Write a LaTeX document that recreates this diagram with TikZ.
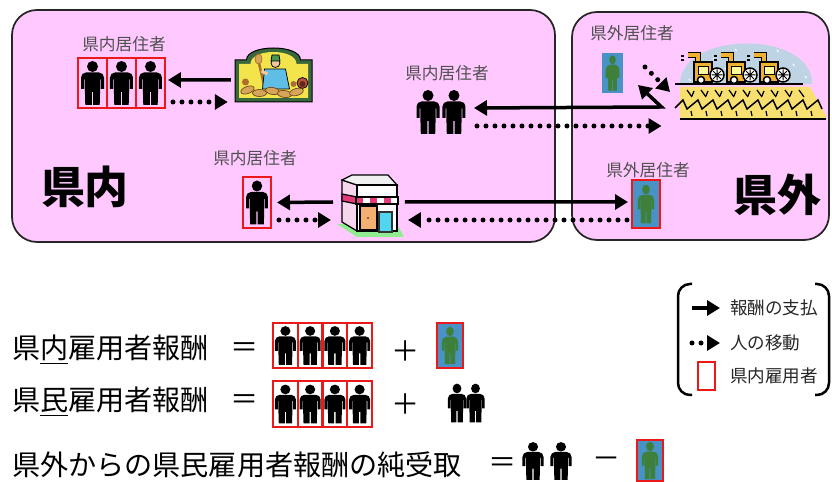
\documentclass[tikz,border=0pt]{standalone}
\usepackage{fontspec}
\newfontfamily\jp{Noto Sans CJK JP}
\usetikzlibrary{arrows.meta,positioning}

\definecolor{areapink}{RGB}{255,200,255}
\definecolor{empred}{RGB}{235,25,25}
\definecolor{outblue}{RGB}{72,146,198}
\definecolor{outgreen}{RGB}{62,128,58}
\definecolor{tagtext}{RGB}{80,80,80}
% clip-art colours
\definecolor{framegreen}{RGB}{58,104,62}
\definecolor{panelyellow}{RGB}{244,228,76}
\definecolor{shirtblue}{RGB}{96,190,230}
\definecolor{capgreen}{RGB}{70,150,80}
\definecolor{skin}{RGB}{240,200,160}
\definecolor{breadbrown}{RGB}{170,110,45}
\definecolor{crust}{RGB}{215,165,90}
\definecolor{ovenred}{RGB}{190,80,56}
\definecolor{skyblue}{RGB}{190,212,228}
\definecolor{harvorange}{RGB}{240,176,48}
\definecolor{wheat}{RGB}{248,224,112}
\definecolor{awning}{RGB}{225,60,120}
\definecolor{shopside}{RGB}{246,214,236}
\definecolor{doororange}{RGB}{244,176,112}
\definecolor{glass}{RGB}{80,214,240}
\definecolor{lawn}{RGB}{144,236,144}

\tikzset{
  man/.pic={
    \fill[pic actions] (0,-16.5) circle[radius=5.5];
    \fill[pic actions] (-11.5,6) [rounded corners=0.1cm] -- (-11.5,-10.5) -- (11.5,-10.5)
      [sharp corners] -- (11.5,6) -- (8.3,6) -- (8.3,-3.5) -- (7.6,-3.5) -- (7.6,7)
      -- (7.2,22) -- (0.7,22) -- (0.7,9) -- (-0.7,9) -- (-0.7,22) -- (-7.2,22) -- (-7.6,7)
      -- (-7.6,-3.5) -- (-8.3,-3.5) -- (-8.3,6) -- cycle;
  },
  harvester/.pic={
    % chute
    \draw[line width=0.13cm] (-8,-19) -- (-8,-27) -- (-18,-27);
    \draw[harvorange, line width=0.075cm] (-8,-19) -- (-8,-27) -- (-18,-27);
    % body and cab
    \draw[fill=harvorange, line width=0.03cm] (-12,0) rectangle (6,-20);
    \draw[fill=yellow!40, line width=0.02cm] (-8,-15) rectangle (2,-7);
    \draw[line width=0.025cm] (-25,-26) -- (-22,-26) (-25,-22) -- (-22,-22);
    % wheels
    \draw[fill=white, line width=0.03cm] (11,-7) circle[radius=7];
    \draw[line width=0.02cm] (5.5,-7) -- (16.5,-7) (11,-12.5) -- (11,-1.5)
      (7.2,-10.8) -- (14.8,-3.2) (7.2,-3.2) -- (14.8,-10.8);
    \draw[fill=white, line width=0.03cm] (-5,-2) circle[radius=3.5];
  }
}

\begin{document}
\begin{tikzpicture}[
    x=0.02cm, y=-0.02cm,
    >={Triangle[length=0.26cm, width=0.3cm]},
    every node/.style={font=\jp},
    area/.style={draw=black!85, line width=0.035cm, fill=areapink, rounded corners=0.5cm},
    empbox/.style={draw=empred, line width=0.045cm, inner sep=0pt, outer sep=0pt,
      minimum width=0.58cm, minimum height=1cm},
    rowbox/.style={empbox, minimum width=0.495cm, minimum height=0.9cm},
    outbox/.style={fill=outblue, inner sep=0pt, outer sep=0pt},
    slot/.style={inner sep=0pt, outer sep=0pt, minimum width=0.52cm, minimum height=0.9cm},
    art/.style={inner sep=0pt, outer sep=0pt},
    tag/.style={text=tagtext, font=\jp\fontsize{9.5}{11}\selectfont},
    region/.style={font=\jp\bfseries\fontsize{25}{28}\selectfont},
    formula/.style={anchor=west, font=\jp\fontsize{16}{18}\selectfont},
    op/.style={font=\jp\fontsize{16}{18}\selectfont},
    keytext/.style={anchor=west, text=black!85, font=\jp\fontsize{10}{12}\selectfont},
    pay/.style={line width=0.07cm, ->},
    move/.style={line width=0.1cm, line cap=round, dash pattern=on 0pt off 0.18cm, ->},
    bracket/.style={line width=0.05cm, rounded corners=0.24cm},
  ]
  \useasboundingbox (0,0) rectangle (832,482);

  % the two areas
  \draw[area] (12,10) rectangle (555,242);
  \draw[area] (572,12) rectangle (829,240);
  \node[region] (inside) at (85,187) {県内};
  \node[region] (outside) at (777,195) {県外};

  % residents employed at the bakery
  \node[empbox] (r1) at (92.5,83) {};
  \node[empbox, right=0pt of r1] (r2) {};
  \node[empbox, right=0pt of r2] (r3) {};
  \foreach \n in {r1,r2,r3} \pic at (\n.center) {man};
  \node[tag] (t1) at (124,44) {県内居住者};

  \node[art, minimum width=1.55cm, minimum height=1.08cm] (bakery) at (273.5,75) {};
  \begin{scope}[shift={(bakery.center)}]
    \filldraw[fill=framegreen, draw=black, line width=0.02cm] (-38.5,27) -- (-38.5,-15) -- (-27,-15)
      .. controls (-27,-31) and (27,-31) .. (27,-15) -- (38.5,-15) -- (38.5,27) -- cycle;
    \fill[panelyellow] (-34.5,23) -- (-34.5,-11) -- (-23,-11)
      .. controls (-23,-27) and (23,-27) .. (23,-11) -- (34.5,-11) -- (34.5,23) -- cycle;
    % peel
    \draw[breadbrown, line width=0.05cm] (-15,-14) -- (-9,12);
    \filldraw[fill=crust, draw=breadbrown, line width=0.015cm] (-15,-16) ellipse[x radius=3.5, y radius=5];
    % baker
    \filldraw[fill=shirtblue, draw=black, line width=0.015cm] (-9,-6) -- (12,-6) -- (16,14) -- (-11,14) -- cycle;
    \draw[skin, line width=0.06cm] (-6,-1) -- (-12,-4);
    \filldraw[fill=skin, draw=black, line width=0.015cm] (2,-12) circle[radius=4.5];
    \filldraw[fill=capgreen, draw=black, line width=0.015cm] (-2.5,-14) -- (6.5,-14) -- (5.5,-20) -- (-1.5,-20) -- cycle;
    % oven
    \filldraw[fill=ovenred, draw=black, line width=0.015cm] (29,8) circle[radius=5.5];
    \fill[ovenred!50!black] (29,9) circle[radius=3];
    % loaves
    \foreach \x/\y/\r in {-26/15/20, -14/18/0, -1/16/-10, 11/19/-8, 23/17/15}
      \filldraw[fill=crust, draw=breadbrown!70!black, line width=0.015cm, rotate around={\r:(\x,\y)}]
        (\x,\y) ellipse[x radius=7, y radius=3.5];
    \fill[breadbrown] (-28,7) circle[radius=3.5];
    \fill[breadbrown] (20,9) circle[radius=3];
  \end{scope}

  \draw[pay] ([xshift=-0.08cm, yshift=-0.1cm]bakery.west) -- ([xshift=0.06cm, yshift=0.06cm]r3.east);
  \draw[move] ([xshift=0.16cm, yshift=-0.38cm]r3.east) -- ([xshift=-0.14cm, yshift=-0.54cm]bakery.west);

  % residents commuting out
  \node[slot] (h1) at (428,112) {};
  \node[slot, right=0pt of h1] (h2) {};
  \foreach \n in {h1,h2} \pic at (\n.center) {man};
  \node[tag] (t2) at (447,73) {県内居住者};

  % farm
  \node[art, minimum width=3.1cm, minimum height=1.5cm] (field) at (749,82) {};
  \begin{scope}[shift={(field.center)}]
    \fill[skyblue] (-69,2) .. controls (-68,-52) and (64,-52) .. (63,2) -- cycle;
    \foreach \x/\y in {-52/-12, -36/-24, -14/-33, 6/-30, 28/-32, 44/-18, 56/-6, -60/-3, 16/-20, -24/-14}
      \draw[white, line width=0.02cm] (\x,\y) -- ++(1.5,2);
    \draw[line width=0.03cm] (-74,2) -- (54,2);
    \foreach \x in {-43,-10,23} \pic at (\x,0) {harvester};
    \fill[wheat] (-69,5) -- (61,5) -- (77,34) -- (77,37) -- (-69,37) -- cycle;
    \foreach \x in {-62,-48,...,62}
      \draw[line width=0.025cm] (\x,8) -- ({\x+5},15);
    \foreach \x in {-55,-41,...,55}
      \draw[line width=0.025cm] (\x,9) -- ({\x-2},14);
    \draw[line width=0.03cm] (-74,26)
      \foreach \i in {0,...,9} { -- ({-66+15*\i},18) -- ({-62+15*\i},27) };
    \foreach \x in {-58,-43,...,62}
      \draw[line width=0.025cm] (\x,29) -- ({\x+1},34);
    \draw[line width=0.035cm] (-69,37) -- (77,37);
  \end{scope}

  \node[outbox, minimum width=0.42cm, minimum height=0.8cm] (o1) at (612.5,73) {};
  \pic[fill=outgreen, xscale=0.6, yscale=0.8] at (o1.center) {man};
  \node[tag] (t3) at (632,33) {県外居住者};

  \draw[pay, <->] ([xshift=0.14cm, yshift=0.08cm]h2.east) -- ([xshift=-0.2cm, yshift=-0.5cm]field.west)
    -- ([xshift=0.3cm, yshift=0.16cm]o1.south east);
  \draw[move] ([xshift=0.2cm, yshift=-0.28cm]h2.east) -- ([xshift=-0.2cm, yshift=-0.88cm]field.west);
  \draw[move] ([xshift=0.44cm, yshift=0.12cm]o1.east) -- ([xshift=-0.03cm, yshift=-0.2cm]field.west);

  % shop
  \node[empbox, minimum width=0.56cm, minimum height=1.02cm] (r4) at (257,202.5) {};
  \pic[xscale=0.95] at (r4.center) {man};
  \node[tag] (t4) at (255,158) {県内居住者};

  \node[art, minimum width=1.36cm, minimum height=1.3cm] (shop) at (371,206) {};
  \begin{scope}[shift={(shop.center)}, line width=0.025cm]
    \fill[lawn] (-34,18) -- (-14,31) -- (33,31) -- (27,20) -- cycle;
    \filldraw[fill=shopside] (-29,-26) -- (-14,-21) -- (-14,25) -- (-29,16) -- cycle;
    \filldraw[fill=black!6] (-29,-26) -- (-19,-31) -- (17,-31) -- (26,-21) -- (-14,-21) -- cycle;
    \filldraw[fill=white] (-14,-21) rectangle (26,25);
    \filldraw[fill=awning] (-29,-12) -- (-14,-9) -- (-14,-2) -- (-29,-5) -- cycle;
    \foreach \i in {0,...,5} {
      \pgfmathsetmacro\col{mod(\i,2)==0 ? "awning" : "white"}
      \fill[\col] ({-15+7*\i},-9) rectangle ({-8+7*\i},-2);
    }
    \draw (-15,-9) rectangle (27,-2);
    \filldraw[fill=doororange] (-11,0) rectangle (6,24);
    \fill[black!70] (-3,12) circle[radius=1.2];
    \filldraw[fill=glass, draw=black!80, line width=0.05cm] (8,6) rectangle (21,26);
  \end{scope}

  \node[outbox, draw=empred, line width=0.045cm, minimum width=0.56cm, minimum height=0.96cm] (o2) at (646,204) {};
  \pic[fill=outgreen, xscale=0.7, yscale=0.88] at (o2.center) {man};
  \node[tag] (t5) at (648,170) {県外居住者};

  \draw[pay] ([xshift=-0.08cm, yshift=0.08cm]shop.west) -- ([xshift=0.12cm]r4.east);
  \draw[move] ([xshift=0.16cm, yshift=-0.35cm]r4.east) -- ([xshift=-0.12cm, yshift=-0.28cm]shop.west);
  \draw[pay] ([yshift=0.08cm]shop.east) -- ([xshift=-0.08cm, yshift=0.04cm]o2.west);
  \draw[move] ([xshift=-0.1cm, yshift=-0.32cm]o2.west) -- ([xshift=0.06cm, yshift=-0.28cm]shop.east);

  % formulas
  \node[formula] (f1) at (6,350) {県\underline{内}雇用者報酬};
  \node[op] (eq1) at (245,350) {＝};
  \node[rowbox] (a1) at (285.4,345.5) {};
  \node[rowbox, right=0pt of a1] (a2) {};
  \node[rowbox, right=0pt of a2] (a3) {};
  \node[rowbox, right=0pt of a3] (a4) {};
  \node[op] (plus1) at (406,351) {＋};
  \node[outbox, draw=empred, line width=0.045cm, minimum width=0.52cm, minimum height=0.9cm] (c1) at (450,345.5) {};

  \node[formula] (f2) at (6,402) {県\underline{民}雇用者報酬};
  \node[op] (eq2) at (245,402) {＝};
  \node[rowbox, minimum height=0.92cm] (b1) at (285.4,404) {};
  \node[rowbox, minimum height=0.92cm, right=0pt of b1] (b2) {};
  \node[rowbox, minimum height=0.92cm, right=0pt of b2] (b3) {};
  \node[rowbox, minimum height=0.92cm, right=0pt of b3] (b4) {};
  \node[op] (plus2) at (406,404) {＋};
  \node[slot, minimum width=0.37cm, minimum height=0.8cm] (h3) at (457,403) {};
  \node[slot, minimum width=0.37cm, minimum height=0.8cm, right=0pt of h3] (h4) {};

  \node[formula] (f3) at (6,465) {県外からの県民雇用者報酬の純受取};
  \node[op] (eq3) at (503,465) {＝};
  \node[slot, minimum width=0.57cm, minimum height=0.78cm] (h5) at (533,461) {};
  \node[slot, minimum width=0.57cm, minimum height=0.78cm] (h6) at (561,461) {};
  \node[op] (minus) at (607,463) {－};
  \node[outbox, draw=empred, line width=0.045cm, minimum width=0.52cm, minimum height=0.82cm] (c3) at (650,460.5) {};

  \foreach \n in {a1,a2,a3,a4,b1,b2,b3,b4} \pic[xscale=0.92, yscale=0.88] at (\n.center) {man};
  \foreach \n in {h3,h4} \pic[xscale=0.8, yscale=0.88] at (\n.center) {man};
  \foreach \n in {h5,h6} \pic[xscale=0.92, yscale=0.86] at (\n.center) {man};
  \foreach \n in {c1,c3} \pic[fill=outgreen, xscale=0.7, yscale=0.85] at (\n.center) {man};

  % key
  \draw[bracket] (692,284) -- (678,284) -- (678,395) -- (692,395);
  \draw[bracket] (815,284) -- (829,284) -- (829,395) -- (815,395);
  \node[keytext] (k1) at (724,308) {報酬の支払};
  \node[keytext] (k2) at (724,343) {人の移動};
  \node[keytext] (k3) at (724,376) {県内雇用者};
  \coordinate (k1s) at (692,308);
  \coordinate (k2s) at (692,343);
  \draw[pay] (k1s) -- ([xshift=-0.08cm]k1.west);
  \draw[move] (k2s) -- ([xshift=-0.08cm]k2.west);
  \node[empbox, minimum width=0.34cm, minimum height=0.56cm] (k3box) at (706.5,376) {};
\end{tikzpicture}
\end{document}
